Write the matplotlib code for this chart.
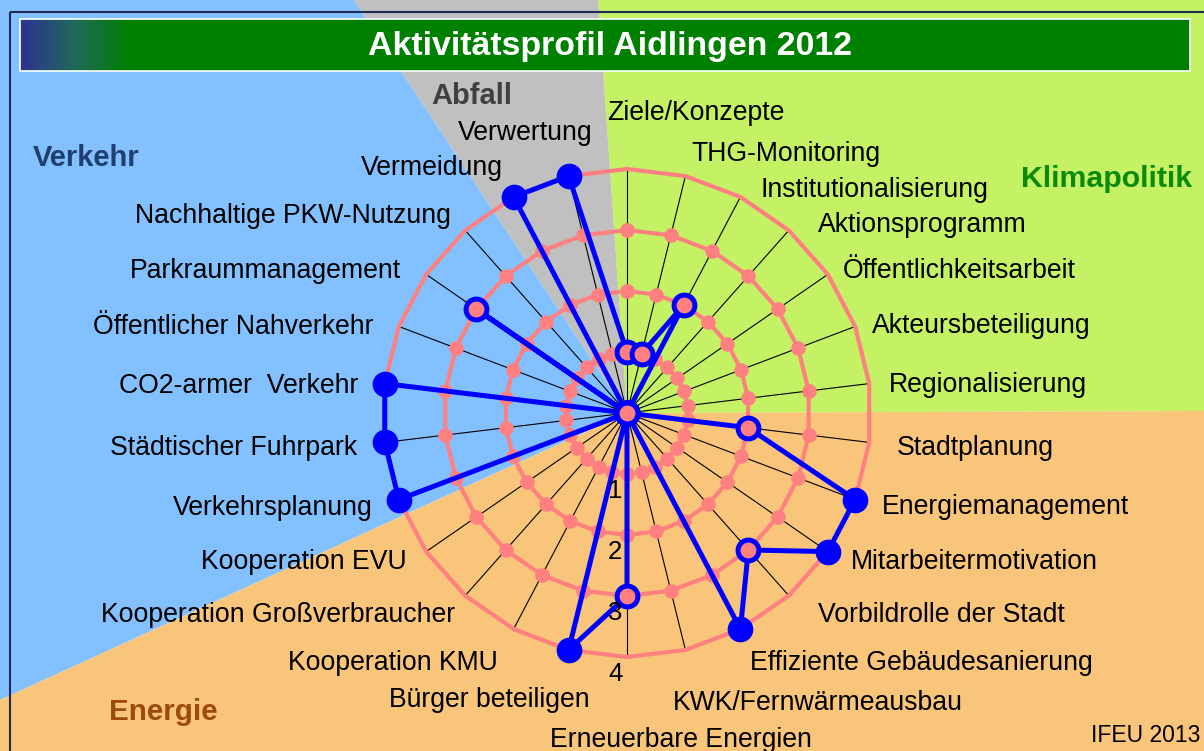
import numpy as np
import matplotlib
matplotlib.use("Agg")
import matplotlib.pyplot as plt
from matplotlib.patches import Rectangle, Polygon
from matplotlib.colors import LinearSegmentedColormap

plt.rcParams['font.family'] = ['Liberation Sans', 'DejaVu Sans']

# ------------------------------------------------------------
# Daten: Aktivitaetsprofil (0 = keine Aktivitaet ... 4 = voll)
# ------------------------------------------------------------
categories = [
    'Ziele/Konzepte', 'THG-Monitoring', 'Institutionalisierung',
    'Aktionsprogramm', 'Öffentlichkeitsarbeit', 'Akteursbeteiligung',
    'Regionalisierung', 'Stadtplanung', 'Energiemanagement',
    'Mitarbeitermotivation', 'Vorbildrolle der Stadt',
    'Effiziente Gebäudesanierung', 'KWK/Fernwärmeausbau',
    'Erneuerbare Energien', 'Bürger beteiligen', 'Kooperation KMU',
    'Kooperation Großverbraucher', 'Kooperation EVU', 'Verkehrsplanung',
    'Städtischer Fuhrpark', 'CO2-armer  Verkehr', 'Öffentlicher Nahverkehr',
    'Parkraummanagement', 'Nachhaltige PKW-Nutzung', 'Vermeidung',
    'Verwertung',
]
values = [1, 1, 2, 0, 0, 0, 0, 2, 4, 4, 3, 4, 0, 3, 4, 0, 0, 0, 4, 4, 4, 0, 3, 0, 4, 4]
ring_levels = [1, 2, 3, 4]
ring_labels = ['1', '2', '3', '4']

# Farben
BLUE = '#0000FF'
PINK = '#FF8080'
C_VERKEHR = '#82C0FF'
C_ABFALL = '#C0C0C0'
C_KLIMA = '#C4F264'
C_ENERGIE = '#F8C57B'

# Layout (Pixel, Bild 1204 x 751)
W, H = 1204, 751
CX, CY = 627, 413          # Mittelpunkt Netzdiagramm
RPIX = 244                 # Radius Ring 4
LABEL_R = 270 / RPIX * 4   # Abstand der Achsenbeschriftung (Datenwerte)
# kleine Verschiebungen der Beschriftungen (px, x nach rechts / y nach unten)
label_nudge = [(-20, -33), (0, 0), (8, 13), (12, 11), (-6, 8), (-8, 6), (-6, 2),
               (2, -1), (2, -5), (2, -7), (12, -3), (-2, 8), (-19, 25), (54, 54),
               (27, 22), (-4, 8), (7, -3), (2, -7), (-2, -4), (-2, -1), (-1, 3),
               (-1, 7), (-4, 8), (3, 2), (1, -9), (30, -21)]
LABEL_DY = 3               # gemeinsame Verschiebung nach unten (px)

fig = plt.figure(figsize=(W / 100, H / 100), dpi=100)
fig.patch.set_facecolor('white')

# ---- Hintergrund mit Themenfeldern ----
bg = fig.add_axes([0, 0, 1, 1])
bg.set_xlim(0, W)
bg.set_ylim(H, 0)
bg.set_axis_off()

panel = Rectangle((10, 12), W, H, facecolor='none', edgecolor='#1F2A55',
                  linewidth=1.5, zorder=5)
bg.add_patch(panel)

sectors = [  # (von Grad, bis Grad, Farbe) - mathematisch positiv
    (0.2, 94.0, C_KLIMA),
    (94.0, 123.5, C_ABFALL),
    (123.5, 204.6, C_VERKEHR),
    (204.6, 360.2, C_ENERGIE),
]
for a0, a1, col in sectors:
    angs = np.radians(np.linspace(a0, a1, 60))
    pts = [(CX, CY)] + [(CX + 3000 * np.cos(a), CY - 3000 * np.sin(a)) for a in angs]
    poly = Polygon(pts, closed=True, facecolor=col, edgecolor='none', zorder=0)
    poly.set_clip_path(panel)
    bg.add_patch(poly)

# Titelbalken mit Verlauf
bar = Rectangle((20, 19), 1170, 52, facecolor='#008000', edgecolor='white',
                linewidth=1.2, zorder=2)
bg.add_patch(bar)
grad = LinearSegmentedColormap.from_list('g', ['#2E3192', '#1F6A5A', '#008000'])
bg.imshow(np.linspace(0, 1, 256).reshape(1, -1), cmap=grad, aspect='auto',
          extent=[21, 130, 70, 20], zorder=3)
bg.set_xlim(0, W)
bg.set_ylim(H, 0)
bg.text(610, 46, 'Aktivitätsprofil Aidlingen 2012', color='white',
        fontsize=24.4, fontweight='bold', ha='center', va='center', zorder=4)

# Themenfelder
bg.text(33, 158, 'Verkehr', color='#1F3F6F', fontsize=21, fontweight='bold',
        ha='left', va='center')
bg.text(472, 96, 'Abfall', color='#404040', fontsize=21, fontweight='bold',
        ha='center', va='center')
bg.text(1192, 179, 'Klimapolitik', color='#0A8A0A', fontsize=21.8, fontweight='bold',
        ha='right', va='center')
bg.text(109, 712, 'Energie', color='#9C4A0E', fontsize=21.3, fontweight='bold',
        ha='left', va='center')
bg.text(1200, 736, 'IFEU 2013', color='black', fontsize=16.5, ha='right', va='center')

# ---- Netzdiagramm ----
rect = [(CX - RPIX) / W, 1 - (CY + RPIX) / H, 2 * RPIX / W, 2 * RPIX / H]
ax = fig.add_axes(rect, projection='polar')
ax.set_theta_zero_location('N')
ax.set_theta_direction(-1)
ax.set_ylim(0, 4)
ax.set_axis_off()

n = len(categories)
theta = np.linspace(0, 2 * np.pi, n, endpoint=False)
theta_c = np.append(theta, theta[0])

# Speichen
for t in theta:
    ax.plot([t, t], [0, ring_levels[-1]], color='black', linewidth=0.8,
            zorder=2, clip_on=False)

# Ringe
for lev in ring_levels:
    r = np.full(n + 1, lev)
    if lev < ring_levels[-1]:
        ax.plot(theta_c, r, color=PINK, linewidth=3, marker='o', markersize=10.5,
                markeredgewidth=0, zorder=3, clip_on=False)
    else:
        ax.plot(theta_c, r, color=PINK, linewidth=3, zorder=3, clip_on=False)

# Werte
vals = np.array(values, dtype=float)
ax.plot(theta_c, np.append(vals, vals[0]), color=BLUE, linewidth=3.6,
        zorder=4, clip_on=False)
full = vals == 4
ax.plot(theta[full], vals[full], 'o', color=BLUE, markersize=18.5,
        markeredgewidth=0, zorder=5, clip_on=False)
ax.plot(theta[~full], vals[~full], 'o', markerfacecolor=PINK, markeredgecolor=BLUE,
        markersize=15, markeredgewidth=3.6, zorder=5, clip_on=False)

# Skalenbeschriftung
for lev, lab in zip(ring_levels, ring_labels):
    ax.annotate(lab, xy=(np.pi, lev), xytext=(-8.5, -12.5), textcoords='offset points',
                fontsize=18.5, ha='center', va='center', annotation_clip=False, zorder=6)

# Kategorienbeschriftung
for k, (t, lab) in enumerate(zip(theta, categories)):
    xs = np.sin(t)
    if k == 0:
        ha = 'left'
    elif abs(xs) < 1e-6:
        ha = 'center'
    else:
        ha = 'left' if xs > 0 else 'right'
    dx, dy = label_nudge[k]
    ax.annotate(lab, xy=(t, LABEL_R), xytext=(dx * 0.72, -(dy + LABEL_DY) * 0.72),
                textcoords='offset points', fontsize=19.2, ha=ha, va='center',
                annotation_clip=False, zorder=6)

fig.savefig('out.png', dpi=100, facecolor='white')
